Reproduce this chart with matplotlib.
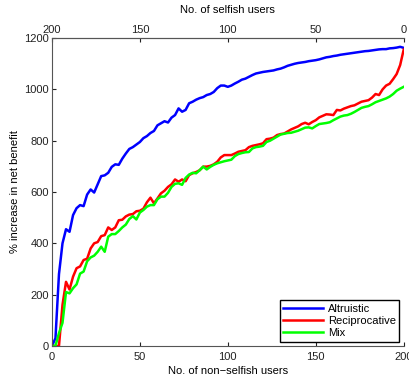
import numpy as np
import matplotlib.pyplot as plt

plt.rcParams['font.family'] = ['Liberation Sans', 'DejaVu Sans']
plt.rcParams['font.size'] = 8

n_nonselfish = np.arange(0, 201, 2)

altruistic = [0, 30, 280, 400, 455, 445, 510, 537, 549, 545,
              590, 610, 598, 630, 662, 665, 675, 698, 708, 706,
              730, 750, 768, 775, 785, 795, 810, 818, 830, 838,
              860, 868, 876, 871, 890, 900, 926, 913, 920, 946,
              952, 960, 966, 970, 978, 982, 990, 1005, 1015, 1015,
              1010, 1015, 1023, 1030, 1038, 1042, 1049, 1056, 1062, 1065,
              1068, 1070, 1072, 1074, 1078, 1081, 1086, 1092, 1096, 1100,
              1103, 1105, 1107, 1110, 1112, 1114, 1117, 1121, 1125, 1127,
              1130, 1132, 1135, 1137, 1139, 1141, 1143, 1145, 1147, 1149,
              1150, 1152, 1154, 1156, 1157, 1157, 1160, 1161, 1163, 1166,
              1162]

reciprocative = [0, 0, 0, 160, 250, 220, 270, 303, 310, 335,
                 340, 380, 400, 405, 428, 432, 462, 452, 462, 490,
                 492, 505, 512, 514, 525, 527, 535, 560, 578, 556,
                 575, 595, 605, 620, 630, 649, 640, 649, 642, 666,
                 673, 678, 685, 699, 699, 702, 708, 718, 735, 744,
                 744, 744, 750, 757, 760, 763, 775, 780, 783, 786,
                 790, 806, 808, 812, 822, 826, 828, 836, 844, 850,
                 856, 865, 870, 864, 873, 880, 891, 897, 903, 902,
                 900, 920, 918, 925, 930, 935, 938, 945, 952, 955,
                 958, 968, 982, 978, 1000, 1015, 1022, 1040, 1060, 1095,
                 1155]

mix = [0, 0, 50, 90, 210, 205, 225, 240, 282, 290,
       330, 345, 352, 367, 387, 367, 426, 436, 436, 448,
       462, 473, 495, 506, 493, 520, 530, 543, 549, 549,
       572, 582, 582, 597, 620, 632, 634, 628, 655, 668,
       675, 673, 685, 699, 688, 698, 706, 712, 716, 720,
       723, 726, 740, 748, 752, 755, 756, 770, 775, 777,
       780, 795, 800, 808, 816, 824, 827, 830, 831, 835,
       839, 845, 851, 852, 848, 857, 865, 867, 869, 872,
       880, 887, 894, 898, 900, 905, 912, 920, 928, 932,
       935, 942, 950, 955, 960, 965, 972, 982, 995, 1003,
       1010]

fig = plt.figure(figsize=(4.09, 3.81), dpi=100)
ax = fig.add_axes([0.127, 0.092, 0.860, 0.808])

ax.plot(n_nonselfish, altruistic, color='#0000ff', lw=1.8, label='Altruistic')
ax.plot(n_nonselfish, reciprocative, color='#ff0000', lw=1.8, label='Reciprocative')
ax.plot(n_nonselfish, mix, color='#00ff00', lw=1.8, label='Mix')

ax.set_xlim(0, 200)
ax.set_ylim(0, 1200)
ax.set_xticks([0, 50, 100, 150, 200])
ax.set_yticks(range(0, 1201, 200))
ax.set_xlabel('No. of non\u2212selfish users', labelpad=3)
ax.set_ylabel('% increase in net benefit', labelpad=3)
ax.tick_params(axis='x', direction='in', length=3, pad=4, colors='#222222')
ax.tick_params(axis='y', direction='in', length=3, pad=2, colors='#222222')
ax.spines['right'].set_visible(False)
for s in ax.spines.values():
    s.set_color('#555555')

top = ax.secondary_xaxis('top', functions=(lambda x: 200 - x, lambda x: 200 - x))
top.set_xticks([200, 150, 100, 50, 0])
top.set_xlabel('No. of selfish users', labelpad=9)
top.tick_params(direction='in', length=3, pad=2, colors='#222222')
top.spines['top'].set_color('#555555')

leg = ax.legend(loc='lower right', fancybox=False, edgecolor='black',
                framealpha=1, handlelength=3.6, borderpad=0.3,
                labelspacing=0.2, handletextpad=0.4, borderaxespad=0.4)
leg.get_frame().set_linewidth(1.0)

fig.savefig('out.png', dpi=100)
